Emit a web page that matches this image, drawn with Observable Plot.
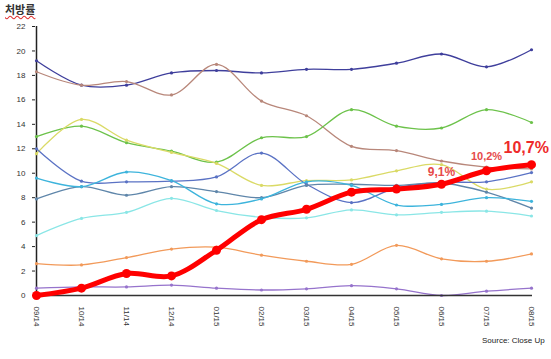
<!DOCTYPE html>
<html><head><meta charset="utf-8">
<script src="https://cdn.jsdelivr.net/npm/d3@7"></script>
<script src="https://cdn.jsdelivr.net/npm/@observablehq/plot@0.6"></script>
<style>
body{margin:0;background:#fff;}
#wrap{position:relative;width:551px;height:359px;}
#title{position:absolute;left:5px;top:1px;font:bold 11px "Noto Sans CJK KR";color:#333;text-decoration:underline wavy #e03030;}
#src{position:absolute;left:482px;top:336px;font:8px "Liberation Sans";color:#222;}
</style></head><body><div id="wrap"><div id="title">처방률</div><div id="src">Source: Close Up</div></div>
<script>
const months = ["09/14","10/14","11/14","12/14","01/15","02/15","03/15","04/15","05/15","06/15","07/15","08/15"];
const navy      = [19.2,17.2,17.2,18.2,18.4,18.2,18.5,18.5,19.0,19.75,18.7,20.1];
const brown     = [18.3,17.2,17.5,16.4,18.9,15.9,14.7,12.2,11.85,11.0,10.5,10.35];
const green     = [13.0,13.85,12.5,11.8,10.9,12.9,13.0,15.2,13.85,13.7,15.2,14.15];
const yellow    = [11.6,14.4,12.7,11.7,10.8,9.0,9.4,9.45,10.2,10.7,8.7,9.3];
const slate     = [12.0,9.35,9.3,9.35,9.7,11.65,9.1,7.6,8.8,9.25,9.3,10.05];
const steel     = [7.9,8.9,8.2,8.9,8.5,8.0,9.0,9.1,9.0,9.2,8.45,7.15];
const cyan      = [9.6,8.9,10.1,9.4,7.5,7.9,9.3,9.0,7.4,7.45,8.0,7.7];
const lightCyan = [4.9,6.3,6.8,7.95,6.95,6.4,6.35,7.0,6.6,6.8,6.9,6.5];
const orange    = [2.6,2.5,3.1,3.8,3.95,3.3,2.8,2.55,4.1,3.0,2.8,3.4];
const purple    = [0.6,0.7,0.7,0.85,0.6,0.45,0.55,0.8,0.55,0.0,0.35,0.6];
const red       = [0,0.6,1.8,1.6,3.7,6.2,7.05,8.45,8.7,9.1,10.2,10.7];

const seriesNames  = ["navy","brown","green","yellow","slate","steel","cyan","lightCyan","orange","purple"];
const seriesValues = [navy,brown,green,yellow,slate,steel,cyan,lightCyan,orange,purple];
const seriesColors = ["#3f3f9c","#b8877a","#6cc24a","#dada66","#5a72c4","#5f86aa","#3db4dc","#8ae6e6","#f29a5a","#9673cc"];

const labelMonths = ["06/15","07/15","08/15"];
const labelTexts  = ["9,1%","10,2%","10,7%"];

const lines = [];
seriesNames.forEach((s,i)=>months.forEach((m,j)=>lines.push({series:s, month:m, value:seriesValues[i][j]})));
const redData = months.map((m,j)=>({month:m, value:red[j]}));
const labels = labelMonths.map((m,i)=>({month:m, value:red[months.indexOf(m)], text:labelTexts[i]}));

const chart = Plot.plot({
  width:551, height:359,
  marginLeft:35, marginRight:19, marginTop:26, marginBottom:64,
  style:{fontFamily:"'Liberation Sans', Arial, sans-serif", background:"transparent"},
  x:{type:"point", domain:months, padding:0, label:null},
  y:{domain:[0,22], label:null},
  color:{domain:seriesNames, range:seriesColors},
  marks:[
    Plot.axisY({ticks:d3.range(0,23,2), tickSize:3, tickPadding:7, fontSize:8, stroke:"#222", fill:"#333", label:null}),
    Plot.axisX({tickRotate:90, tickSize:0, tickPadding:11, fontSize:8, fill:"#333", label:null}),
    Plot.ruleX([months[0]], {stroke:"#222", strokeWidth:1.5}),
    Plot.line(lines, {x:"month", y:"value", z:"series", stroke:"series", curve:"catmull-rom", strokeWidth:1.3}),
    Plot.dot(lines, {x:"month", y:"value", fill:"series", r:1.6}),
    Plot.ruleY([0], {stroke:"#333", strokeWidth:1.5}),
    Plot.line(redData, {x:"month", y:"value", stroke:"#ff0000", strokeWidth:5, curve:"catmull-rom"}),
    Plot.dot(redData, {x:"month", y:"value", fill:"#ff0000", r:4.5}),
    Plot.text(labels.slice(0,1), {x:"month", y:"value", text:"text", dy:-12, fontSize:12, fontWeight:"bold", fill:"#e64a4a"}),
    Plot.text(labels.slice(1,2), {x:"month", y:"value", text:"text", dy:-14, fontSize:11, fontWeight:"bold", fill:"#e64a4a"}),
    Plot.text(labels.slice(2,3), {x:"month", y:"value", text:"text", dx:-28, dy:-17, textAnchor:"start", fontSize:16, fontWeight:"bold", fill:"#ee2a2a"})
  ]
});
document.getElementById("wrap").prepend(chart);
</script></body></html>
